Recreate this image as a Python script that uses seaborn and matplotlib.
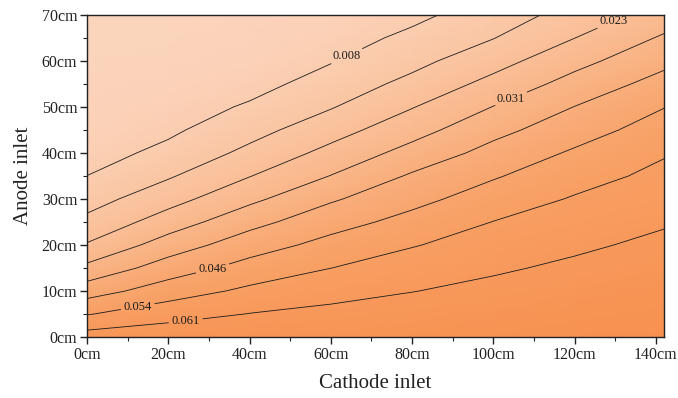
import numpy as np
import matplotlib
matplotlib.use("Agg")
import matplotlib.pyplot as plt
import seaborn as sns
from matplotlib.ticker import MultipleLocator

# Sampling grid (cm)
cathode_cm = [0, 20, 40, 60, 80, 100, 120, 142]
anode_cm = [0, 5, 10, 15, 20, 25, 30, 35, 40, 45, 50, 55, 60, 65, 70]

# Field values, one list per cathode position, running up the anode axis
z_cathode_0 = [0.0646, 0.0531, 0.0424, 0.0325, 0.0236, 0.0172, 0.0122, 0.0077,
               0.0046, 0.0027, 0.0014, 0.0006, 0.0002, 0.0001, 0.0000]
z_cathode_20 = [0.0662, 0.0581, 0.0498, 0.0419, 0.0342, 0.0266, 0.0201, 0.0145,
                0.0096, 0.0063, 0.0038, 0.0021, 0.0011, 0.0005, 0.0002]
z_cathode_40 = [0.0676, 0.0614, 0.0551, 0.0487, 0.0424, 0.0358, 0.0288, 0.0227,
                0.0172, 0.0126, 0.0086, 0.0050, 0.0028, 0.0014, 0.0006]
z_cathode_60 = [0.0682, 0.0633, 0.0584, 0.0535, 0.0483, 0.0430, 0.0373, 0.0308,
                0.0252, 0.0199, 0.0148, 0.0109, 0.0072, 0.0043, 0.0023]
z_cathode_80 = [0.0689, 0.0649, 0.0610, 0.0571, 0.0531, 0.0483, 0.0437, 0.0392,
                0.0333, 0.0277, 0.0226, 0.0174, 0.0131, 0.0094, 0.0058]
z_cathode_100 = [0.0698, 0.0665, 0.0633, 0.0601, 0.0568, 0.0537, 0.0494, 0.0452,
                 0.0408, 0.0360, 0.0308, 0.0253, 0.0201, 0.0151, 0.0116]
z_cathode_120 = [0.0711, 0.0683, 0.0655, 0.0627, 0.0598, 0.0571, 0.0542, 0.0506,
                 0.0469, 0.0426, 0.0384, 0.0334, 0.0282, 0.0229, 0.0180]
z_cathode_142 = [0.0728, 0.0703, 0.0679, 0.0654, 0.0630, 0.0604, 0.0580, 0.0555,
                 0.0529, 0.0493, 0.0457, 0.0411, 0.0363, 0.0316, 0.0264]

# Isolines: some carry a value label, the others are plain
plain_levels = [0.0153, 0.03825]
labelled_levels = [0.00765, 0.02295, 0.0306, 0.0459, 0.05355, 0.0612]
label_spots = [(63.9, 61.1), (129.5, 68.6), (104.4, 51.7),
               (31.0, 14.6), (12.5, 6.6), (24.3, 3.5)]

x_ticks = [0, 20, 40, 60, 80, 100, 120, 140]
y_ticks = [0, 10, 20, 30, 40, 50, 60, 70]

sns.set_theme(style="ticks")
plt.rcParams["font.family"] = ["Liberation Serif", "DejaVu Serif"]

cmap = sns.blend_palette(["#FBD4BC", "#FABD94", "#F8A268", "#F7904E"], as_cmap=True)

fig = plt.figure(figsize=(6.78, 3.98), dpi=100)
ax = fig.add_axes([0.1283, 0.1533, 0.8511, 0.809])

X, Y = np.meshgrid(cathode_cm, anode_cm)
Z = np.array([z_cathode_0, z_cathode_20, z_cathode_40, z_cathode_60,
              z_cathode_80, z_cathode_100, z_cathode_120, z_cathode_142]).T

ax.pcolormesh(X, Y, Z, shading="gouraud", cmap=cmap, vmin=0.0, vmax=0.074)
line_kw = dict(colors="#1c1c1c", linewidths=0.6)
ax.contour(X, Y, Z, levels=plain_levels, **line_kw)
cs = ax.contour(X, Y, Z, levels=labelled_levels, **line_kw)
texts = ax.clabel(cs, manual=label_spots, fmt=lambda v: f"{v:.3f}",
                  fontsize=9, inline=True, inline_spacing=3, colors="#1c1c1c")
for t in texts:
    t.set_rotation(0)

ax.set_xlim(0, 142)
ax.set_ylim(0, 70)
ax.set_xticks(x_ticks)
ax.set_xticklabels([f"{v}cm" for v in x_ticks])
ax.set_yticks(y_ticks)
ax.set_yticklabels([f"{v}cm" for v in y_ticks])
ax.xaxis.set_minor_locator(MultipleLocator(10))
ax.yaxis.set_minor_locator(MultipleLocator(5))
ax.tick_params(which="major", direction="out", length=5, width=1,
               labelsize=11.5, colors="#222222", pad=2)
ax.tick_params(which="minor", direction="out", length=3, width=0.8, colors="#222222")
ax.tick_params(top=False, right=False, which="both")

for side in ax.spines.values():
    side.set_color("#222222")
    side.set_linewidth(1.0)
    side.set_visible(True)

ax.set_xlabel("Cathode inlet", fontsize=15, color="#222222", labelpad=8)
ax.set_ylabel("Anode inlet", fontsize=15, color="#222222", labelpad=6)

fig.savefig("out.png", dpi=100)
